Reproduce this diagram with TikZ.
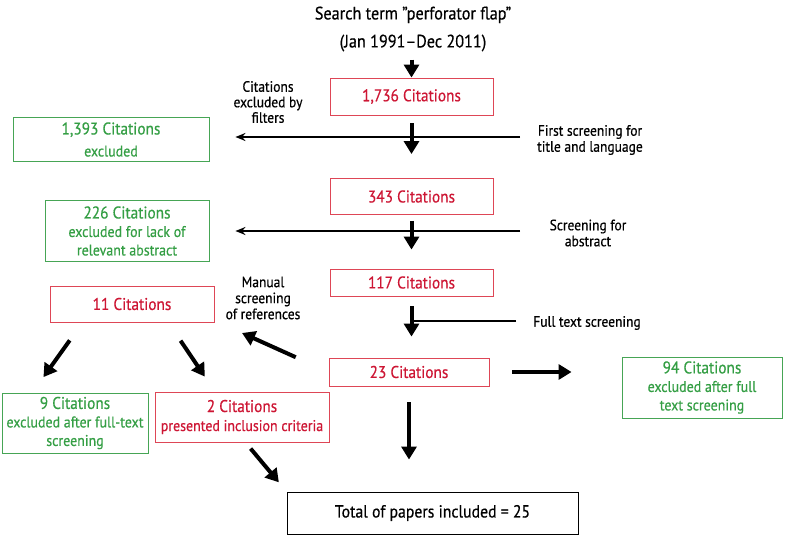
\documentclass[tikz,border=0pt]{standalone}
\usepackage{fontspec}
\setmainfont{PT Sans}[FakeStretch=0.9,FakeBold=0.5]
\usepackage{tikz}
\usetikzlibrary{%
	calc,%
	arrows.meta
}
\definecolor{citred}{RGB}{205,22,52}
\definecolor{citredline}{RGB}{222,70,86}
\definecolor{citgreen}{RGB}{52,158,68}
\definecolor{citgreenline}{RGB}{70,165,85}
\tikzset{
	redbox/.style={draw=citredline,line width=0.9pt,text=citred,align=center,inner sep=0pt,font=\fontsize{15.5}{19}\selectfont},
	greenbox/.style={draw=citgreenline,line width=0.9pt,text=citgreen,align=center,inner sep=0pt,font=\fontsize{15.5}{18.5}\selectfont},
	bigarrow/.style={line width=4pt,-{Triangle[width=15pt,length=13pt]}},
	thinarrow/.style={line width=1.7pt,-{Stealth[width=8pt,length=10pt]}},
	lbl/.style={align=center,font=\fontsize{15}{16}\selectfont,inner sep=0pt}
}
\newcommand{\ttl}{\fontsize{17}{19}\selectfont}

\begin{document}
\begin{tikzpicture}[x=1pt,y=-1pt]
		\useasboundingbox (0,0) rectangle (793,535);
		
		\node[lbl,font=\fontsize{18}{28}\selectfont] (search) at (413,29) {Search term "perforator flap"\\(Jan 1991–Dec 2011)};
		
		\node[redbox,minimum width=163pt,minimum height=37pt] (b1736) at (411.5,96.5) {\ttl 1,736 Citations};
		\node[redbox,minimum width=163pt,minimum height=36pt] (b343) at (411.5,196.5) {\ttl 343 Citations};
		\node[redbox,minimum width=163pt,minimum height=27pt] (b117) at (411.5,282.5) {\ttl 117 Citations};
		\node[redbox,minimum width=160pt,minimum height=28pt] (b23) at (409,372) {\ttl 23 Citations};
		\node[draw=black,line width=0.9pt,minimum width=291pt,minimum height=42pt,font=\fontsize{17.5}{19}\selectfont] (total) at (432.5,513) {Total of papers included = 25};
		
		\node[greenbox,font=\fontsize{15.5}{22}\selectfont,minimum width=196pt,minimum height=44pt] (b1393) at (111,139.5) {{\ttl 1,393 Citations}\\excluded};
		\node[greenbox,minimum width=164pt,minimum height=61pt] (b226) at (127,231) {{\ttl 226 Citations}\\excluded for lack of\\relevant abstract};
		\node[greenbox,minimum width=160pt,minimum height=61pt] (b94) at (702,387.5) {{\ttl 94 Citations}\\excluded after full\\text screening};
		\node[redbox,minimum width=164pt,minimum height=36pt] (b11) at (132,304) {\ttl 11 Citations};
		\node[greenbox,minimum width=146pt,minimum height=60pt] (b9) at (75,423) {{\ttl 9 Citations}\\excluded after full-text\\screening};
		\node[redbox,minimum width=174pt,minimum height=50pt] (b2) at (242,417) {{\ttl 2 Citations}\\presented inclusion criteria};
		
		\node[lbl,font=\fontsize{15}{15.5}\selectfont] (filters) at (268,102) {Citations\\excluded by\\filters};
		\node[lbl] (first) at (590,140) {First screening for\\title and language};
		\node[lbl] (abstr) at (588,233) {Screening for\\abstract};
		\node[lbl] (fulltext) at (587,323) {Full text screening};
		\node[lbl] (manual) at (263,298) {Manual\\screening\\of references};
		
		\coordinate (r1) at (520,137);
		\coordinate (r2) at (520,231);
		\coordinate (r3) at (516,321);
		\coordinate (mtip) at (242,333);
		
		\draw[thinarrow,shorten >=26pt] (r1) -- (r1 -| b1393.east);
		\draw[thinarrow,shorten >=26pt] (r2) -- (r2 -| b226.east);
		\draw[line width=1.7pt] (r3) -- (r3 -| b117);
		
		\draw[bigarrow,shorten <=8pt] (search.south -| b1736) -- (b1736.north);
		\draw[bigarrow,shorten <=8pt,shorten >=24pt] (b1736.south) -- (b343.north);
		\draw[bigarrow,shorten <=6pt,shorten >=19pt] (b343.south) -- (b117.north);
		\draw[bigarrow,shorten <=10pt,shorten >=21pt] (b117.south) -- (b117.south |- b23.north);
		\draw[bigarrow,shorten <=16pt,shorten >=32pt] (b23.south) -- (b23.south |- total.north);
		\draw[bigarrow,shorten <=23pt,shorten >=50pt] (b23.east) -- (b23.east -| b94.west);
		\draw[bigarrow,shorten <=36pt] (b23.west) -- (mtip);
		\draw[bigarrow,shorten <=22pt,shorten >=19pt] ($(b11.south west)!0.2!(b11.south east)$) -- ($(b9.north west)!0.21!(b9.north east)$);
		\draw[bigarrow,shorten <=22pt,shorten >=18pt] ($(b11.south west)!0.72!(b11.south east)$) -- ($(b2.north west)!0.345!(b2.north east)$);
		\draw[bigarrow,shorten <=8pt,shorten >=12pt] ($(b2.south west)!0.52!(b2.south east)$) -- (total.north west);
	\end{tikzpicture}
\end{document}
